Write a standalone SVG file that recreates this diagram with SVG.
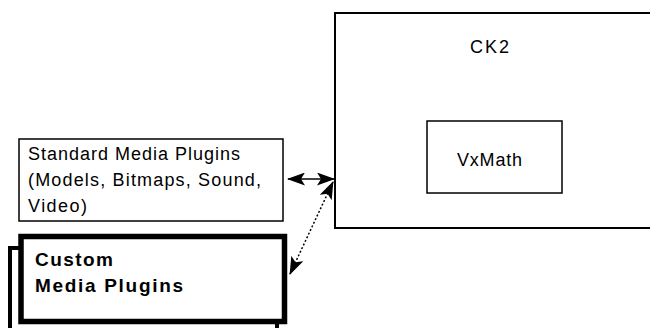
<svg xmlns="http://www.w3.org/2000/svg" width="650" height="328" viewBox="0 0 650 328">
<style>
.box{fill:#fff;stroke:#000}
.t{font-family:"Liberation Sans",Arial,sans-serif;fill:#000}
.b{font-weight:bold}
.c{stroke:#000;stroke-width:1.5;fill:none}
</style>
<defs>
<marker id="ah" viewBox="0 0 18 13" refX="17" refY="6.5" markerWidth="18" markerHeight="13" markerUnits="userSpaceOnUse" orient="auto-start-reverse">
<path d="M0,0 L18,6.5 L0,13 L4,6.5 z" fill="#000"/>
</marker>
</defs>
<rect width="650" height="328" fill="#fff"/>
<g id="ck2">
<rect class="box" x="335" y="13" width="330" height="215" stroke-width="2"/>
<text class="t" x="470" y="53" font-size="18" textLength="39">CK2</text>
</g>
<g id="vxmath">
<rect class="box" x="427" y="121" width="135" height="72" stroke-width="1.5"/>
<text class="t" x="457" y="166" font-size="18" textLength="65">VxMath</text>
</g>
<g id="standard">
<rect class="box" x="19" y="139" width="264" height="82" stroke-width="1.5"/>
<text class="t" font-size="18"><tspan x="28" y="160" textLength="212">Standard Media Plugins</tspan><tspan x="28" y="186" textLength="233">(Models, Bitmaps, Sound,</tspan><tspan x="28" y="212" textLength="59">Video)</tspan></text>
</g>
<g id="custom">
<rect class="box" x="10" y="248" width="267" height="100" stroke-width="4"/>
<rect class="box" x="21" y="236.5" width="263.5" height="85" stroke-width="5.5"/>
<text class="t b" font-size="19"><tspan x="35" y="266" textLength="78">Custom</tspan><tspan x="35" y="292" textLength="148">Media Plugins</tspan></text>
</g>
<g id="connectors">
<line class="c" x1="288" y1="179" x2="334" y2="179" marker-start="url(#ah)" marker-end="url(#ah)"/>
<line class="c" x1="333" y1="182" x2="290" y2="274" stroke-dasharray="2,2" marker-start="url(#ah)" marker-end="url(#ah)"/>
</g>
</svg>
